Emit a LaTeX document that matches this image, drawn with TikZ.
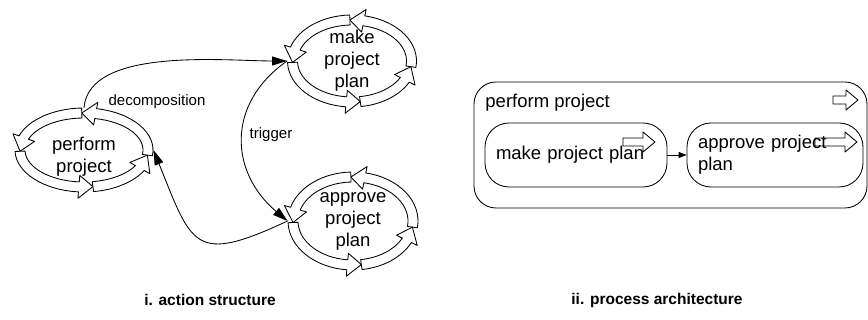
\documentclass[tikz,border=0pt]{standalone}
\usepackage{fontspec}
\setmainfont{Liberation Sans}
\usepackage{tikz}
\usetikzlibrary{arrows.meta,shapes.geometric,positioning}

% four hollow arc arrows round a node: #1 node, #2/#3 half axes of the band
\newcommand{\actring}[3]{%
  \begin{scope}[shift={(#1.center)}]
    \foreach \sa/\ta in {-8/92, 92/182, 182/278, 278/352}{
      \pgfmathsetmacro{\ba}{\ta-deg(14/sqrt((#2*sin(\ta))^2+(#3*cos(\ta))^2))}
      \pgfmathsetmacro{\rxo}{#2+5}\pgfmathsetmacro{\ryo}{#3+5}
      \pgfmathsetmacro{\rxi}{#2-5}\pgfmathsetmacro{\ryi}{#3-5}
      \draw[fill=white]
        ({\rxo*cos(\sa)},{\ryo*sin(\sa)})
        arc[start angle=\sa, end angle=\ba, x radius=\rxo, y radius=\ryo]
        -- ({(#2+11.5)*cos(\ba)},{(#3+11.5)*sin(\ba)})
        -- ({#2*cos(\ta)},{#3*sin(\ta)})
        -- ({(#2-11.5)*cos(\ba)},{(#3-11.5)*sin(\ba)})
        -- ({\rxi*cos(\ba)},{\ryi*sin(\ba)})
        arc[start angle=\ba, end angle=\sa, x radius=\rxi, y radius=\ryi]
        -- cycle;
    }
  \end{scope}}

\tikzset{
  ring/.style={ellipse, inner sep=0pt},
  bigtext/.style={font=\fontsize{18.5}{22}\selectfont, align=center},
  lbl/.style={font=\fontsize{15}{18}\selectfont},
  caption/.style={font=\fontsize{15.5}{18}\selectfont\bfseries},
  conn/.style={-{Triangle[length=15pt,width=9pt]}},
  plan/.style={draw, rounded corners=24pt, minimum height=64pt, align=left,
    font=\fontsize{18.5}{22}\selectfont},
  pics/blockarrow/.style={code={
    \draw ({0},-4) -- ({#1-12},-4) -- ({#1-12},-10) -- ({#1},0)
      -- ({#1-12},10) -- ({#1-12},4) -- ({0},4) -- cycle;}}
}

\begin{document}
\begin{tikzpicture}[x=1pt,y=1pt,line width=0.85pt,line cap=round,line join=round]
  \useasboundingbox (0,0) rectangle (868,320);

  % action structure
  \node[ring, minimum width=138pt, minimum height=84pt] (perform) at (84,170) {};
  \node[ring, minimum width=129pt, minimum height=92pt] (make) at (352,259) {};
  \node[ring, minimum width=130pt, minimum height=98pt] (approve) at (353,99) {};
  \actring{perform}{64}{37}
  \actring{make}{59.5}{41}
  \actring{approve}{60}{44}
  \node[bigtext] (performtext) at (84,163) {perform\\project};
  \node[bigtext] (maketext) at (make) {make\\project\\plan};
  \node[bigtext] (approvetext) at (approve) {approve\\project\\plan};

  \draw[conn] (perform.north) to[out=85,in=180,looseness=0.75] (make.west);
  \draw[conn] (make.west) to[out=215,in=140,looseness=1.2] (approve.west);
  \draw[conn] (approve.west) to[out=205,in=-68,looseness=1.75] (perform.east);
  \node[lbl] (declbl) at (157,218) {decomposition};
  \node[lbl] (trglbl) at (271,185) {trigger};

  % process architecture
  \node[draw, rounded corners=22pt, minimum width=393pt, minimum height=126pt] (arch) at (670.5,175) {};
  \node[bigtext, anchor=west, inner sep=0pt] (archtitle) at (485,217) {perform project};
  \node[plan, minimum width=182pt, text width=160pt] (makeplan) at (576,165) {make project plan};
  \node[plan, minimum width=176pt, text width=154pt] (approveplan) at (775,165) {approve project\\plan};
  \draw[-{Triangle[length=8pt,width=6pt]}] (makeplan) -- (approveplan);
  \pic at (833,220) {blockarrow=25};
  \pic at (623,178) {blockarrow=32};
  \pic at (815,178) {blockarrow=42};

  % captions
  \node[caption] (capa) at (210,20) {i. action structure};
  \node[caption] (capb) at (657,20) {ii. process architecture};
\end{tikzpicture}
\end{document}
